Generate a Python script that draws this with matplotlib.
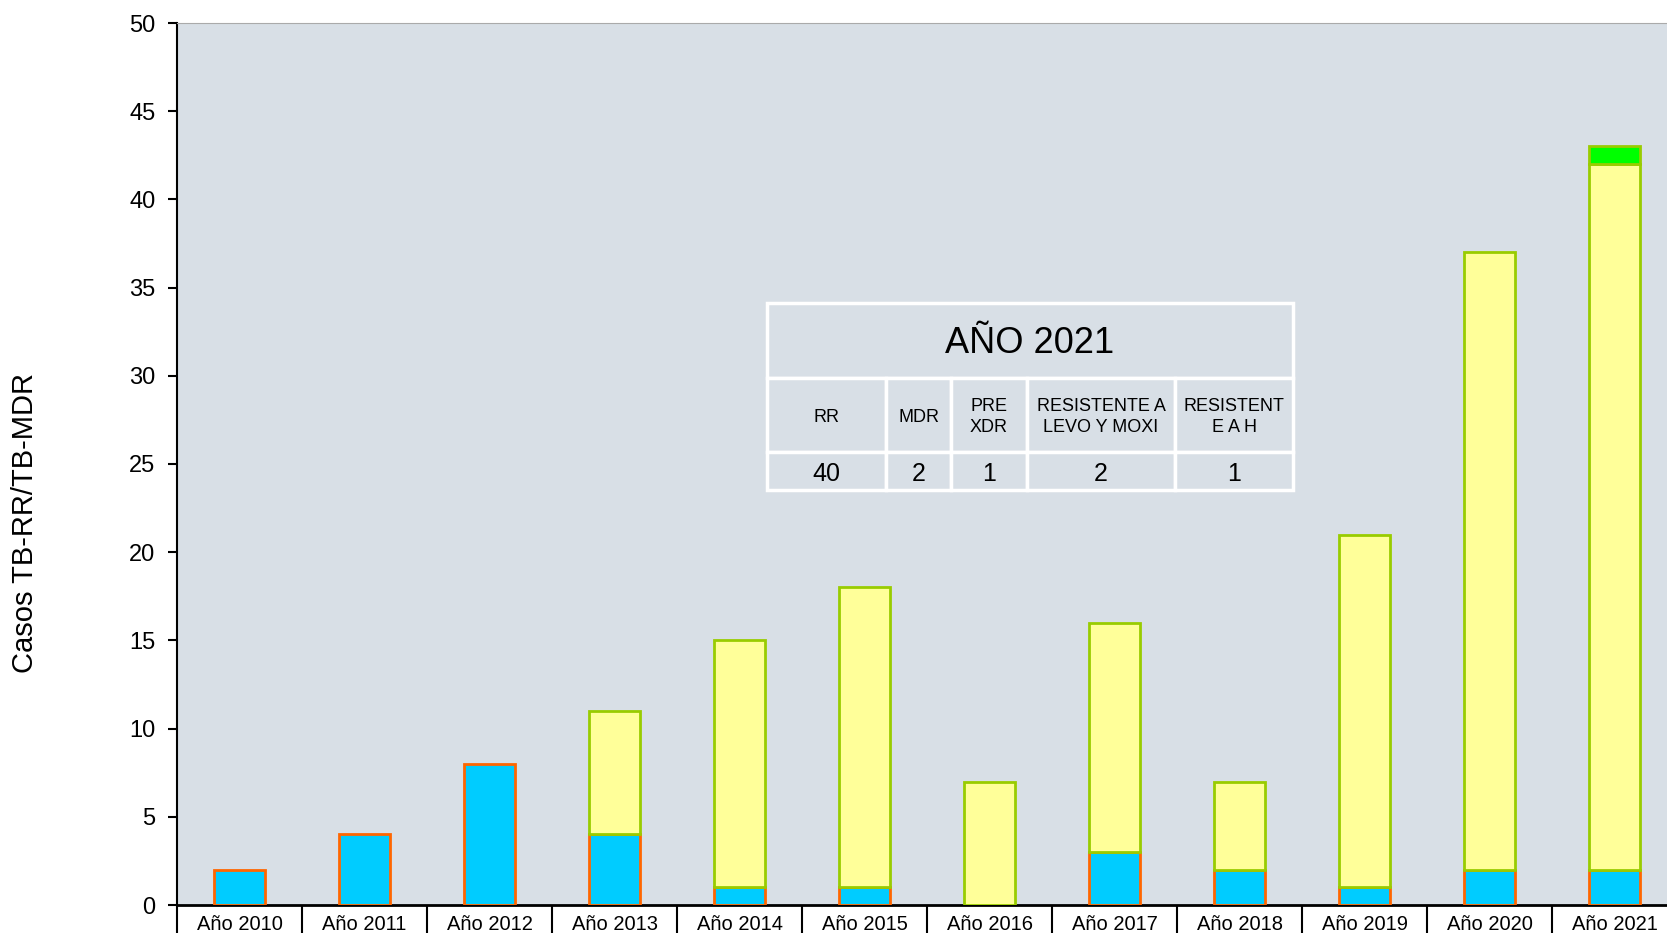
import matplotlib
matplotlib.use("Agg")
import matplotlib.pyplot as plt
from matplotlib.patches import Rectangle
import numpy as np

# Data
years = ["Año 2010", "Año 2011", "Año 2012", "Año 2013", "Año 2014", "Año 2015",
         "Año 2016", "Año 2017", "Año 2018", "Año 2019", "Año 2020", "Año 2021"]
mdr = [2, 4, 8, 4, 1, 1, 0, 3, 2, 1, 2, 2]
rr = [0, 0, 0, 7, 14, 17, 7, 13, 5, 20, 35, 40]
other = [0, 0, 0, 0, 0, 0, 0, 0, 0, 0, 0, 1]

table_title = "AÑO 2021"
table_headers = ["RR", "MDR", "PRE\nXDR", "RESISTENTE A\nLEVO Y MOXI", "RESISTENT\nE A H"]
table_values = ["40", "2", "1", "2", "1"]

BG = "#d8dfe6"
ARIAL = ["Liberation Sans", "DejaVu Sans"]

W, H = 1667, 933
fig = plt.figure(figsize=(W / 100, H / 100), dpi=100)
ax = fig.add_axes([177 / W, 28 / H, 1500 / W, 882 / H])
ax.set_facecolor(BG)

x = np.arange(len(years))
bw = 0.41
mdr_a = np.array(mdr)
rr_a = np.array(rr)
other_a = np.array(other)

# only draw non-empty segments so zero-height bars don't leave an edge line
m = mdr_a > 0
ax.bar(x[m], mdr_a[m], bw, color="#00ccff", edgecolor="#ff6600", linewidth=2, zorder=3)
m = rr_a > 0
ax.bar(x[m], rr_a[m], bw, bottom=mdr_a[m], color="#ffff99", edgecolor="#99cc00",
       linewidth=2, zorder=3)
m = other_a > 0
ax.bar(x[m], other_a[m], bw, bottom=(mdr_a + rr_a)[m], color="#00ff00", edgecolor="#99cc00",
       linewidth=2, zorder=3)

ax.set_xlim(-0.5, len(years) - 0.5)
ax.set_ylim(0, 50)
ax.set_yticks(range(0, 51, 5))
ax.tick_params(axis="y", length=6.5, width=1.5, pad=9, labelsize=17)
for lab in ax.get_yticklabels():
    lab.set_family(ARIAL)

ax.set_xticks(x)
ax.set_xticklabels(years, fontsize=14.5, family=ARIAL)
ax.tick_params(axis="x", which="major", length=0, pad=7)
ax.set_xticks(np.arange(-0.5, len(years), 1.0), minor=True)
ax.tick_params(axis="x", which="minor", length=30, width=1.5, direction="out")

ax.spines["left"].set_linewidth(1.5)
ax.spines["bottom"].set_linewidth(2)
ax.spines["top"].set_color("#aaaaaa")
ax.spines["right"].set_visible(False)

fig.text(25 / W, 1 - 523 / H, "Casos TB-RR/TB-MDR", rotation=90, ha="center", va="center",
         fontsize=21, family=ARIAL)

# Summary table for 2021 (drawn in figure pixel coordinates)
cols = [767, 886, 951, 1027, 1175, 1293]
rows = [303, 378, 452, 490]

def px(xp, yp):
    return xp / W, 1 - yp / H

def cell(x0, x1, y0, y1, text, size, dy=0):
    fx, fy = px(x0, y1)
    fig.patches.append(Rectangle((fx, fy), (x1 - x0) / W, (y1 - y0) / H, transform=fig.transFigure,
                                 facecolor=BG, edgecolor="white", linewidth=2.5, zorder=5))
    cx, cy = px((x0 + x1) / 2, (y0 + y1) / 2 + dy)
    fig.text(cx, cy, text, ha="center", va="center", fontsize=size, family=ARIAL,
             linespacing=1.3, zorder=6)

cell(cols[0], cols[-1], rows[0], rows[1], table_title, 26, dy=3)
for i in range(len(table_headers)):
    cell(cols[i], cols[i + 1], rows[1], rows[2], table_headers[i], 13, dy=2)
    cell(cols[i], cols[i + 1], rows[2], rows[3], table_values[i], 18, dy=3)

fig.savefig("out.png", dpi=100)
